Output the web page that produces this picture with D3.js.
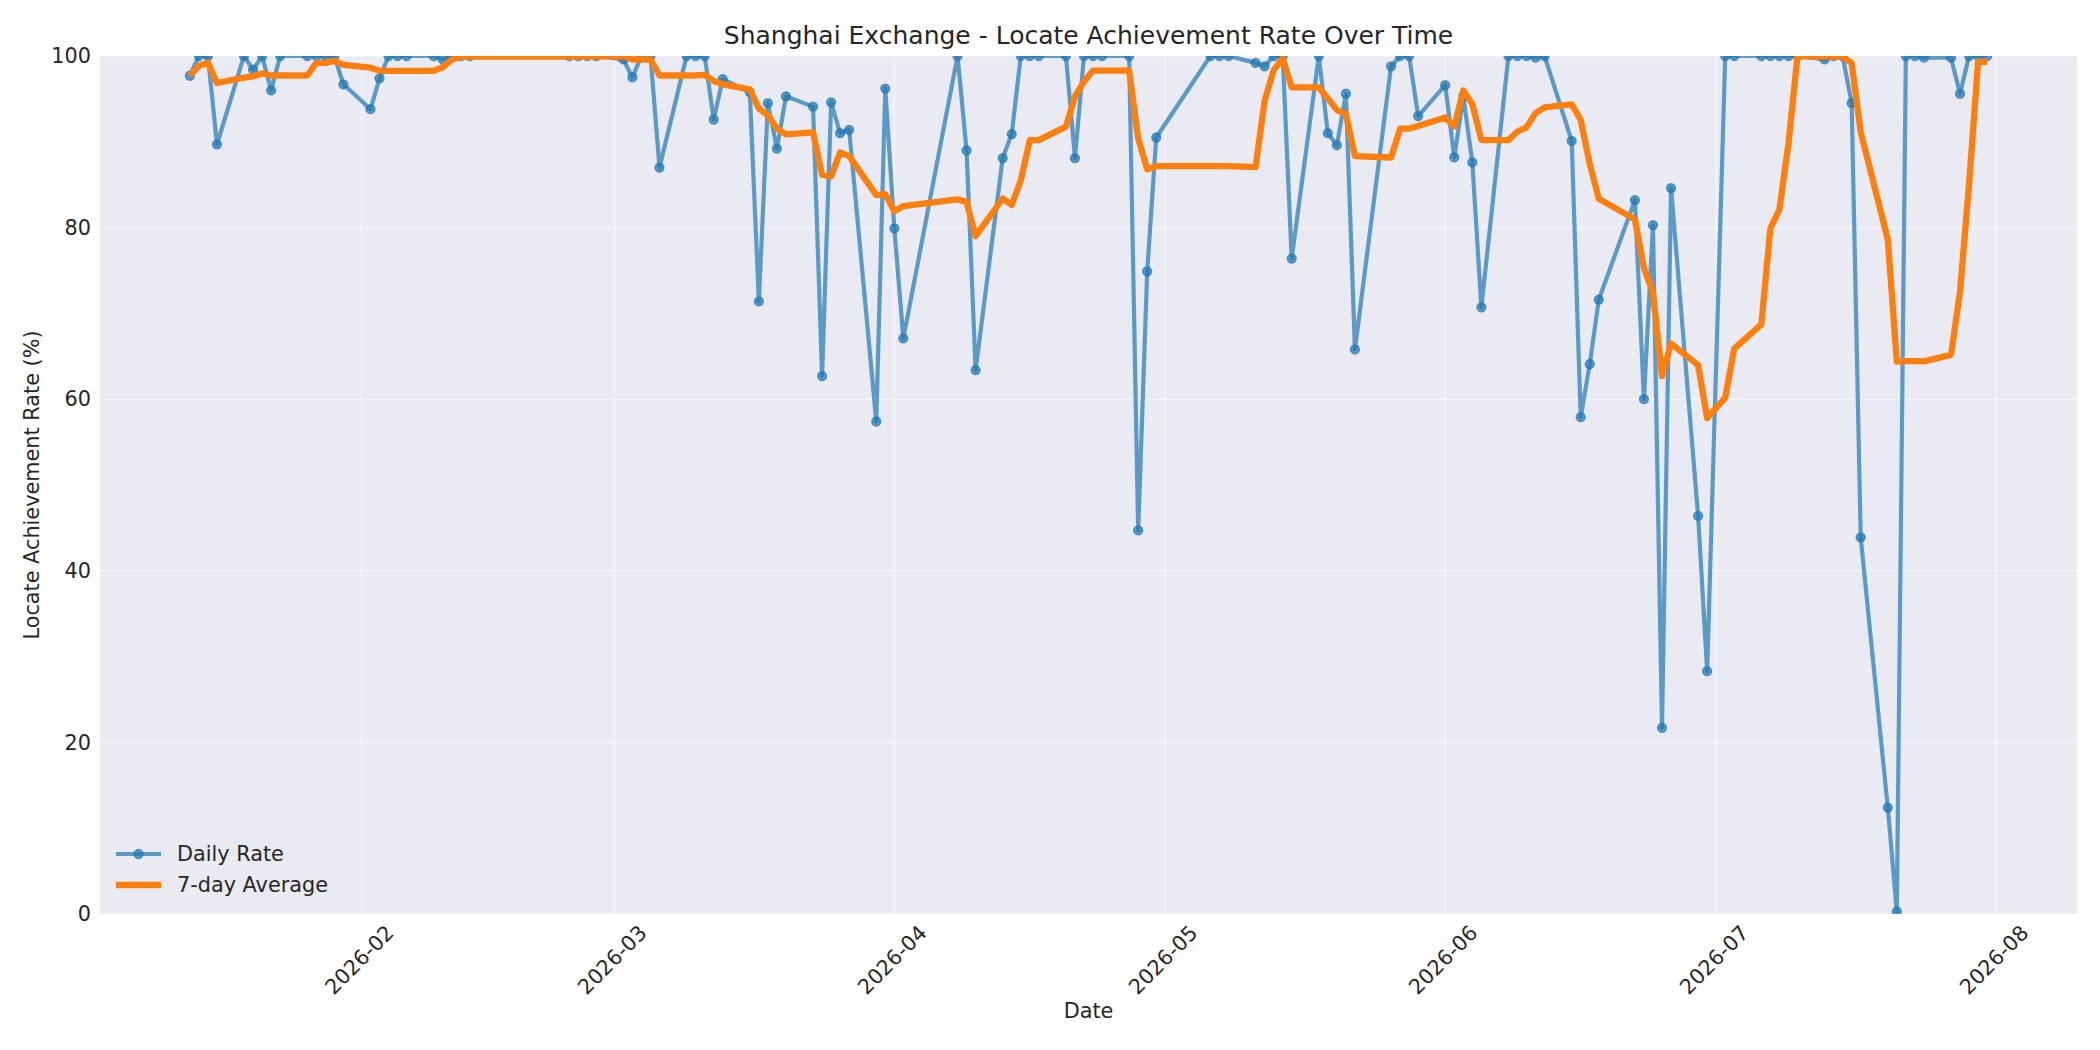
<!DOCTYPE html>
<html>
<head>
<meta charset="utf-8">
<script src="https://cdn.jsdelivr.net/npm/d3@7"></script>
<style>
  html, body { margin: 0; padding: 0; background: #ffffff; }
  svg { display: block; }
  text { font-family: "DejaVu Sans", sans-serif; fill: #262626; }
</style>
</head>
<body>
<svg id="chart" width="2100" height="1050"></svg>
<script>
const dates = [
  "2026-01-13","2026-01-14","2026-01-15","2026-01-16","2026-01-19","2026-01-20","2026-01-21","2026-01-22","2026-01-23",
  "2026-01-26","2026-01-27","2026-01-28","2026-01-29","2026-01-30",
  "2026-02-02","2026-02-03","2026-02-04","2026-02-05","2026-02-06","2026-02-09","2026-02-10","2026-02-11","2026-02-12","2026-02-13",
  "2026-02-24","2026-02-25","2026-02-26","2026-02-27",
  "2026-03-02","2026-03-03","2026-03-04","2026-03-05","2026-03-06","2026-03-09","2026-03-10","2026-03-11","2026-03-12","2026-03-13",
  "2026-03-16","2026-03-17","2026-03-18","2026-03-19","2026-03-20","2026-03-23","2026-03-24","2026-03-25","2026-03-26","2026-03-27",
  "2026-03-30","2026-03-31",
  "2026-04-01","2026-04-02","2026-04-08","2026-04-09","2026-04-10","2026-04-13","2026-04-14","2026-04-15","2026-04-16","2026-04-17",
  "2026-04-20","2026-04-21","2026-04-22","2026-04-23","2026-04-24","2026-04-27","2026-04-28","2026-04-29","2026-04-30",
  "2026-05-06","2026-05-07","2026-05-08","2026-05-11","2026-05-12","2026-05-13","2026-05-14","2026-05-15","2026-05-18","2026-05-19",
  "2026-05-20","2026-05-21","2026-05-22","2026-05-26","2026-05-27","2026-05-28","2026-05-29",
  "2026-06-01","2026-06-02","2026-06-03","2026-06-04","2026-06-05","2026-06-08","2026-06-09","2026-06-10","2026-06-11","2026-06-12",
  "2026-06-15","2026-06-16","2026-06-17","2026-06-18","2026-06-22","2026-06-23","2026-06-24","2026-06-25","2026-06-26","2026-06-29","2026-06-30",
  "2026-07-02","2026-07-03","2026-07-06","2026-07-07","2026-07-08","2026-07-09","2026-07-10","2026-07-13","2026-07-14","2026-07-15",
  "2026-07-16","2026-07-17","2026-07-20","2026-07-21","2026-07-22","2026-07-23","2026-07-24","2026-07-27","2026-07-28","2026-07-29",
  "2026-07-30","2026-07-31"
];

const dailyRate = [
  97.7,100,100,89.7,100,98.4,100,96.0,100,
  100,100,100,100,96.7,
  93.8,97.4,100,100,100,100,99.6,100,100,100,
  100,100,100,100,
  99.6,97.5,100,100,87.0,100,100,100,92.6,97.3,
  95.8,71.4,94.5,89.2,95.3,94.1,62.7,94.6,91.0,91.4,
  57.4,96.2,
  79.9,67.1,100,89.0,63.4,88.1,90.9,100,100,100,
  100,88.1,100,100,100,100,44.7,74.9,90.5,
  100,100,100,99.2,98.8,100,100,76.4,100,91.0,
  89.6,95.6,65.8,98.8,100,100,93.0,
  96.6,88.2,95.3,87.6,70.7,100,100,100,99.8,100,
  90.1,57.9,64.1,71.6,83.2,60.0,80.3,21.7,84.6,46.4,28.3,
  100,100,100,100,100,100,100,99.6,100,100,
  94.5,43.9,12.4,0.3,100,100,99.8,99.8,95.6,100,
  100,100
];

const avg7 = [
  97.7,98.85,99.23,96.85,97.48,97.63,97.97,97.73,97.73,
  97.73,99.2,99.2,99.43,98.96,
  98.64,98.27,98.27,98.27,98.27,98.27,98.69,99.57,99.94,99.94,
  99.94,99.94,99.94,100,
  99.94,99.59,99.59,99.59,97.73,97.73,97.73,97.79,97.09,96.7,
  96.1,93.87,93.09,91.54,90.87,91.09,86.14,85.97,88.77,88.33,
  83.79,83.91,
  81.89,82.51,83.29,83.0,79.0,83.39,82.63,85.5,90.2,90.2,
  91.77,95.3,97.0,98.3,98.3,98.3,90.4,86.81,87.16,
  87.16,87.16,87.16,87.04,94.77,98.36,99.71,96.34,96.34,95.06,
  93.69,93.23,88.34,88.17,91.54,91.54,91.83,
  92.83,91.77,95.99,94.39,90.2,90.2,91.2,91.69,93.34,94.01,
  94.37,92.54,87.41,83.36,80.96,75.27,72.46,62.69,66.5,63.97,57.79,
  60.19,65.9,68.71,79.9,82.1,89.76,100,99.94,99.94,99.94,
  99.16,91.14,78.63,64.39,64.44,64.44,64.41,65.17,72.56,85.07,
  99.31,99.31
];

const yTicks = [0, 20, 40, 60, 80, 100];
const xTickLabels = ["2026-02","2026-03","2026-04","2026-05","2026-06","2026-07","2026-08"];
const titleText = "Shanghai Exchange - Locate Achievement Rate Over Time";
const xLabelText = "Date";
const yLabelText = "Locate Achievement Rate (%)";
const seriesNames = ["Daily Rate", "7-day Average"];

// ---- layout ----
const W = 2100, H = 1050;
const L = 100, R = 2077, T = 56, B = 914;
const parse = d3.utcParse("%Y-%m-%d");
const parseMonth = d3.utcParse("%Y-%m");
const pts = dates.map((d, i) => ({ date: parse(d), v: dailyRate[i], a: avg7[i] }));

const first = pts[0].date, last = pts[pts.length - 1].date;
const span = last - first;
const x = d3.scaleUtc()
  .domain([new Date(+first - span * 0.05), new Date(+last + span * 0.05)])
  .range([L, R]);
const y = d3.scaleLinear().domain([0, 100]).range([B, T]);

const svg = d3.select("#chart");
svg.append("rect").attr("width", W).attr("height", H).attr("fill", "#ffffff");

svg.append("defs").append("clipPath").attr("id", "plotclip")
  .append("rect").attr("x", L).attr("y", T).attr("width", R - L).attr("height", B - T);

svg.append("rect").attr("x", L).attr("y", T).attr("width", R - L).attr("height", B - T)
  .attr("fill", "#EAEAF2");

// grid
const grid = svg.append("g");
const xTickDates = xTickLabels.map(s => parseMonth(s));
grid.selectAll("line.vx").data(xTickDates).enter().append("line")
  .attr("x1", d => x(d)).attr("x2", d => x(d)).attr("y1", T).attr("y2", B)
  .attr("stroke", "#ffffff").attr("stroke-opacity", 0.45).attr("stroke-width", 1.6);
grid.selectAll("line.hy").data(yTicks).enter().append("line")
  .attr("x1", L).attr("x2", R).attr("y1", d => y(d)).attr("y2", d => y(d))
  .attr("stroke", "#ffffff").attr("stroke-opacity", 0.45).attr("stroke-width", 1.6);

// axes via d3 axis generators (no domain lines, no tick marks)
const yAxis = d3.axisLeft(y).tickValues(yTicks).tickSize(0).tickPadding(9).tickFormat(d3.format("d"));
const gy = svg.append("g").attr("transform", `translate(${L},0)`).call(yAxis);
gy.select(".domain").remove();
gy.selectAll("text").attr("font-size", 20.8).attr("font-family", "DejaVu Sans").attr("fill", "#262626");

const xAxis = d3.axisBottom(x).tickValues(xTickDates).tickSize(0).tickFormat(d3.utcFormat("%Y-%m"));
const gx = svg.append("g").attr("transform", `translate(0,${B})`).call(xAxis);
gx.select(".domain").remove();
gx.selectAll(".tick text")
  .attr("font-size", 20.8).attr("font-family", "DejaVu Sans").attr("fill", "#262626")
  .attr("text-anchor", "middle").attr("dominant-baseline", "central")
  .attr("x", -2.5).attr("y", 46).attr("dy", null)
  .attr("transform", "rotate(-45, -2.5, 46)");

// series
const plot = svg.append("g").attr("clip-path", "url(#plotclip)");
const lineDaily = d3.line().x(d => x(d.date)).y(d => y(d.v));
const lineAvg = d3.line().x(d => x(d.date)).y(d => y(d.a));

plot.append("path").datum(pts).attr("d", lineDaily)
  .attr("fill", "none").attr("stroke", "#1f77b4").attr("stroke-opacity", 0.7)
  .attr("stroke-width", 4.2).attr("stroke-linejoin", "round").attr("stroke-linecap", "butt");
plot.selectAll("circle.pt").data(pts).enter().append("circle")
  .attr("cx", d => x(d.date)).attr("cy", d => y(d.v)).attr("r", 4.4)
  .attr("fill", "#1f77b4").attr("fill-opacity", 0.7)
  .attr("stroke", "#1f77b4").attr("stroke-opacity", 0.7).attr("stroke-width", 1.5);

plot.append("path").datum(pts).attr("d", lineAvg)
  .attr("fill", "none").attr("stroke", "#ff7f0e")
  .attr("stroke-width", 6.3).attr("stroke-linejoin", "round").attr("stroke-linecap", "butt");

// title & labels
svg.append("text").attr("x", (L + R) / 2).attr("y", 44).attr("text-anchor", "middle")
  .attr("font-size", 25).text(titleText);
svg.append("text").attr("x", (L + R) / 2).attr("y", 1018).attr("text-anchor", "middle")
  .attr("font-size", 20.8).text(xLabelText);
svg.append("text").attr("transform", `translate(39,${(T + B) / 2}) rotate(-90)`)
  .attr("text-anchor", "middle").attr("font-size", 20.8).text(yLabelText);

// legend
const lg = svg.append("g");
const rows = [854, 885];
lg.append("line").attr("x1", 116).attr("x2", 161).attr("y1", rows[0]).attr("y2", rows[0])
  .attr("stroke", "#1f77b4").attr("stroke-opacity", 0.7).attr("stroke-width", 4.2);
lg.append("circle").attr("cx", 138.5).attr("cy", rows[0]).attr("r", 4.4)
  .attr("fill", "#1f77b4").attr("fill-opacity", 0.7)
  .attr("stroke", "#1f77b4").attr("stroke-opacity", 0.7).attr("stroke-width", 1.5);
lg.append("line").attr("x1", 116).attr("x2", 161).attr("y1", rows[1]).attr("y2", rows[1])
  .attr("stroke", "#ff7f0e").attr("stroke-width", 6.3);
lg.selectAll("text.lt").data(seriesNames).enter().append("text")
  .attr("x", 177).attr("y", (d, i) => rows[i]).attr("dominant-baseline", "central")
  .attr("font-size", 20.8).text(d => d);
</script>
</body>
</html>
